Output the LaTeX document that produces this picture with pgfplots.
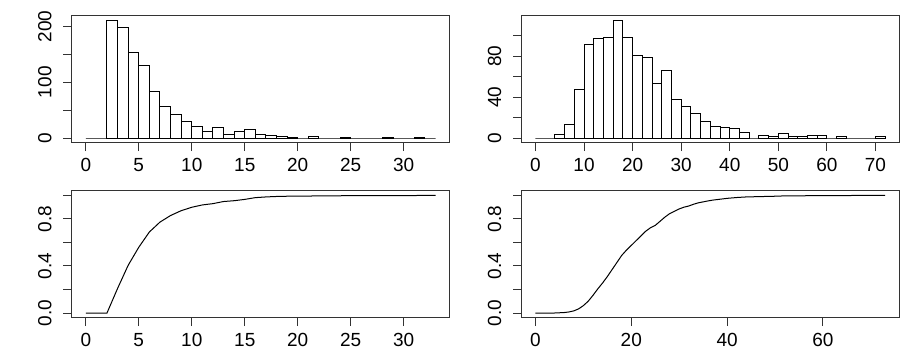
\documentclass[border=0pt]{standalone}
\usepackage{fontspec}
\setmainfont{Liberation Sans}
\usepackage{pgfplots}
\pgfplotsset{compat=1.18}
\pgfplotsset{
  rbase/.style={
    scale only axis, width=188.85pt, height=63.5pt,
    anchor=south west,
    axis line style={black!80, line width=0.5pt},
    every tick/.style={black!80, line width=0.5pt},
    tick align=outside, xtick pos=lower, ytick pos=left,
    major tick length=4.15pt,
    minor tick num=0,
    tick label style={font=\fontsize{9.5}{11}\selectfont, inner sep=0pt},
    /pgf/number format/assume math mode=true,
    yticklabel style={rotate=90, anchor=south},
    xticklabel shift=3.5pt,
    yticklabel shift=5.8pt,
    enlargelimits=false,
    scaled ticks=false,
  }
}
\begin{document}
\begin{tikzpicture}
\useasboundingbox (0pt,0pt) rectangle (450pt,175pt);
% top left histogram
\begin{axis}[rbase, at={(35.9pt,103.65pt)},
  xmin=-1.32, xmax=34.32, ymin=-8.44, ymax=219.4,
  xtick={0,5,10,15,20,25,30},
  ytick={0,50,100,150,200}, yticklabels={0,,100,,200}]
\addplot[ybar interval, fill=white, draw=black, line width=0.5pt] coordinates {
(0,0) (1,0) (2,211) (3,198) (4,154) (5,130) (6,84) (7,56) (8,42) (9,29)
(10,20) (11,11) (12,18) (13,7) (14,11) (15,15) (16,6) (17,4) (18,2) (19,1)
(20,0) (21,3) (22,0) (23,0) (24,1) (25,0) (26,0) (27,0) (28,1) (29,0)
(30,0) (31,1) (32,0) (33,0)};
\end{axis}
% top right histogram
\begin{axis}[rbase, at={(260.75pt,103.65pt)},
  xmin=-2.88, xmax=74.88, ymin=-4.6, ymax=119.6,
  xtick={0,10,20,30,40,50,60,70},
  ytick={0,20,40,60,80,100}, yticklabels={0,,40,,80,}]
\addplot[ybar interval, fill=white, draw=black, line width=0.5pt] coordinates {
(0,0) (2,0) (4,3) (6,13) (8,47) (10,91) (12,97) (14,98) (16,115) (18,98)
(20,81) (22,79) (24,53) (26,66) (28,38) (30,31) (32,24) (34,16) (36,11) (38,10)
(40,9) (42,5) (44,0) (46,2) (48,1) (50,4) (52,1) (54,1) (56,2) (58,2)
(60,0) (62,1) (64,0) (66,0) (68,0) (70,1) (72,0)};
\end{axis}
% bottom left cdf
\begin{axis}[rbase, at={(35.9pt,16.15pt)},
  xmin=-1.32, xmax=34.32, ymin=-0.04, ymax=1.04,
  xtick={0,5,10,15,20,25,30},
  ytick={0,0.2,0.4,0.6,0.8,1}, yticklabels={0.0,,0.4,,0.8,}]
\addplot[sharp plot, black, line width=0.5pt, no marks] coordinates {
(0,0) (1,0) (2,0) (3,0.209) (4,0.406) (5,0.559) (6,0.689) (7,0.773) (8,0.829)
(9,0.870) (10,0.899) (11,0.919) (12,0.930) (13,0.948) (14,0.955) (15,0.966)
(16,0.981) (17,0.987) (18,0.991) (19,0.993) (20,0.994) (21,0.994) (22,0.997)
(23,0.997) (24,0.997) (25,0.998) (26,0.998) (27,0.998) (28,0.998) (29,0.999)
(30,0.999) (31,0.999) (32,1.0) (33,1.0)};
\end{axis}
% bottom right cdf
\begin{axis}[rbase, at={(260.75pt,16.15pt)},
  xmin=-2.92, xmax=75.92, ymin=-0.04, ymax=1.04,
  xtick={0,20,40,60},
  ytick={0,0.2,0.4,0.6,0.8,1}, yticklabels={0.0,,0.4,,0.8,}]
\addplot[sharp plot, black, line width=0.5pt, no marks] coordinates {
(0,0) (4,0) (5,0.002) (6,0.004) (7,0.009) (8,0.018) (9,0.035) (10,0.063)
(11,0.10) (12,0.15) (13,0.205) (14,0.255) (15,0.31) (16,0.37) (17,0.43)
(18,0.49) (19,0.535) (20,0.575) (21,0.615) (22,0.655) (23,0.695) (24,0.725)
(25,0.745) (26,0.78) (27,0.815) (28,0.845) (29,0.865) (30,0.885) (31,0.90)
(32,0.91) (33,0.925) (34,0.937) (35,0.945) (36,0.953) (37,0.96) (38,0.965)
(40,0.975) (42,0.982) (44,0.987) (46,0.989) (48,0.991) (50,0.993) (52,0.996)
(56,0.997) (60,0.998) (64,0.999) (73,1.0)};
\end{axis}
\end{tikzpicture}
\end{document}
